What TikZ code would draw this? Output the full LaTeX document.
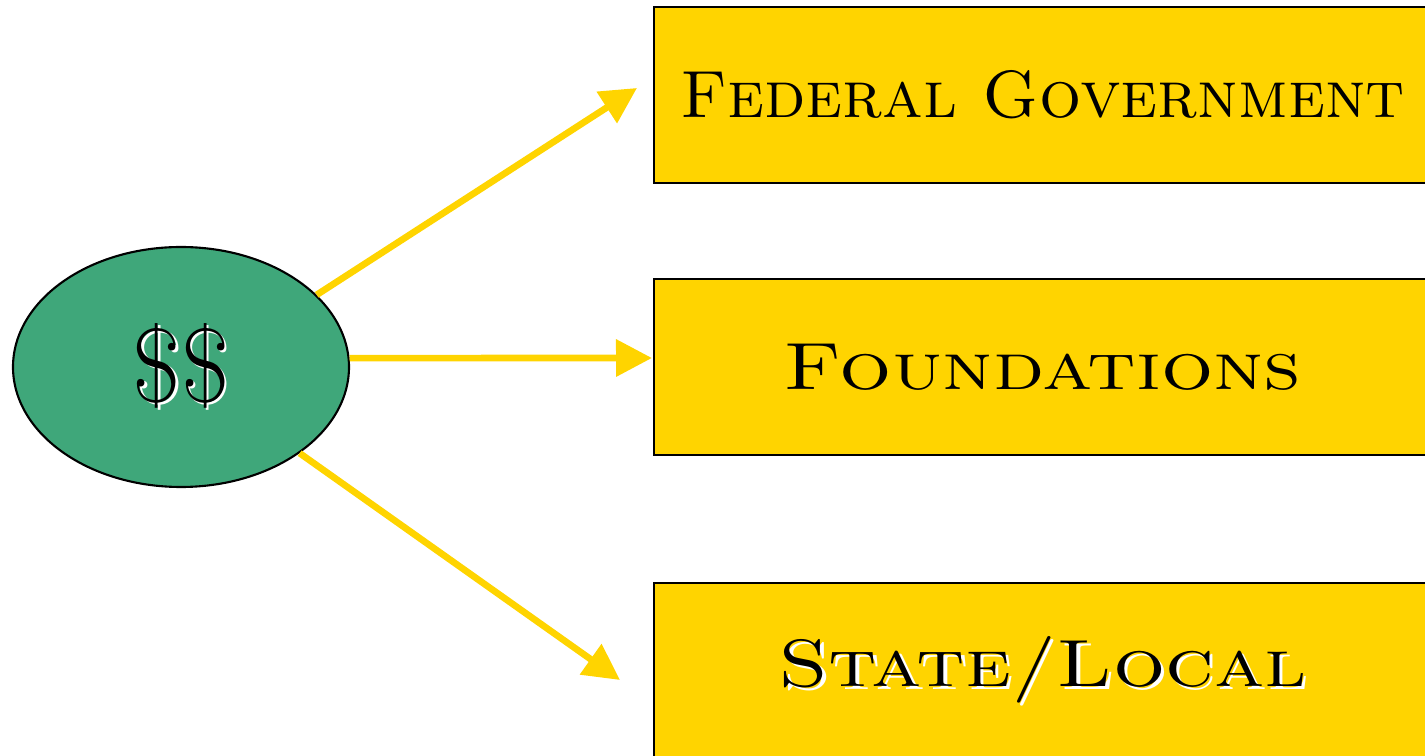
\documentclass[tikz,border=0pt]{standalone}
\usepackage{graphicx}
\usetikzlibrary{arrows.meta,shapes.geometric}

\definecolor{gold}{RGB}{255,212,0}
\definecolor{money}{RGB}{63,167,122}

\newcommand{\wideword}[2]{\resizebox{#1}{\height}{\scshape #2}}
\newcommand{\whiteshadow}[1]{\makebox[0pt][l]{\color{white}\hspace{0.8pt}\raisebox{-0.8pt}{#1}}#1}

\begin{document}
\begin{tikzpicture}[
  fundbox/.style={draw=black,line width=0.6pt,fill=gold,minimum width=7.77cm,
    minimum height=1.76cm,inner sep=0pt,anchor=west,font=\fontsize{19}{21}\selectfont},
  source/.style={ellipse,draw=black,line width=0.6pt,fill=money,minimum width=3.36cm,
    minimum height=2.40cm,inner sep=0pt,font=\fontsize{30}{32}\selectfont},
  flow/.style={gold,line width=1.9pt,-{Triangle[length=3.6mm,width=3.6mm]}}]
  \useasboundingbox (0,0) rectangle (14.25,7.56);
  \clip (0,0) rectangle (14.25,7.56);
  % source of money
  \node[source] (dollars) at (1.81,3.89) {\whiteshadow{\$\$}};
  % recipients
  \node[fundbox] (fed) at (6.53,6.61) {\wideword{7.25cm}{Federal Government}};
  \node[fundbox] (found) at (6.53,3.89) {\wideword{5.18cm}{Foundations}};
  \node[fundbox] (state) at (6.53,0.85) {\wideword{5.28cm}{\whiteshadow{State/Local}}};
  % arrow tips
  \coordinate (fedtip) at (6.37,6.68);
  \coordinate (foundtip) at (6.52,3.98);
  \coordinate (statetip) at (6.20,0.76);
  \draw[flow] (dollars.28) -- (fedtip);
  \draw[flow] (dollars.3) -- (foundtip);
  \draw[flow] (dollars.-36) -- (statetip);
\end{tikzpicture}
\end{document}
